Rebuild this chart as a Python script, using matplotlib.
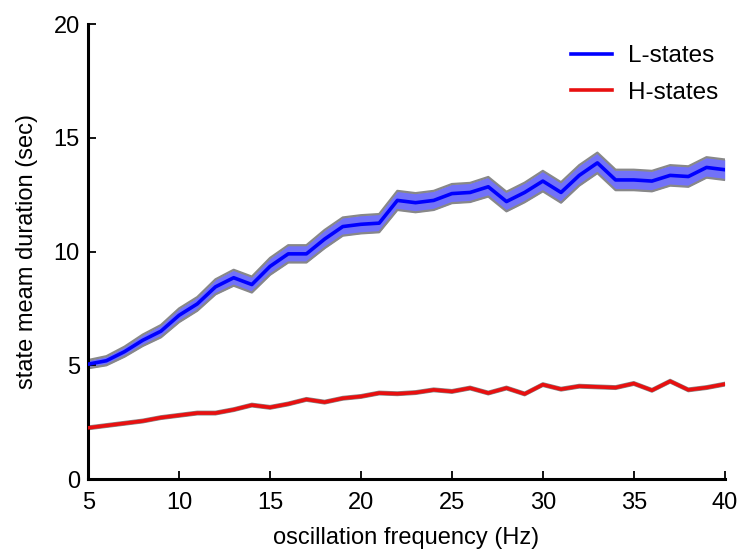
import matplotlib
matplotlib.use('Agg')
import matplotlib.pyplot as plt

plt.rcParams['font.family'] = ['Liberation Sans', 'DejaVu Sans']

# frequencies (Hz)
freq = list(range(5, 41))

# L-states mean duration (sec)
l_mean = [5.05, 5.2, 5.6, 6.1, 6.5, 7.2, 7.7, 8.45, 8.85, 8.55,
          9.35, 9.9, 9.9, 10.55, 11.1, 11.2, 11.25, 12.25, 12.15, 12.25,
          12.55, 12.6, 12.85, 12.2, 12.6, 13.1, 12.6, 13.35, 13.9, 13.15,
          13.15, 13.1, 13.35, 13.3, 13.7, 13.6]
l_err = [0.18, 0.2, 0.22, 0.25, 0.27, 0.3, 0.3, 0.33, 0.35, 0.35,
         0.37, 0.38, 0.38, 0.4, 0.4, 0.4, 0.4, 0.42, 0.42, 0.42,
         0.42, 0.42, 0.43, 0.43, 0.43, 0.45, 0.45, 0.45, 0.45, 0.45,
         0.45, 0.45, 0.45, 0.45, 0.45, 0.45]

# H-states mean duration (sec)
h_mean = [2.25, 2.35, 2.45, 2.55, 2.7, 2.8, 2.9, 2.9, 3.05, 3.25,
          3.15, 3.3, 3.5, 3.38, 3.55, 3.63, 3.78, 3.75, 3.8, 3.92,
          3.85, 4.0, 3.78, 4.0, 3.74, 4.15, 3.95, 4.08, 4.05, 4.02,
          4.2, 3.9, 4.3, 3.92, 4.02, 4.17]
h_err = [0.06] * 36

fig = plt.figure(figsize=(7.41, 5.49), dpi=100)
ax = fig.add_axes([0.119, 0.1275, 0.859, 0.8285])

# L-states band + line
lo = [m - e for m, e in zip(l_mean, l_err)]
hi = [m + e for m, e in zip(l_mean, l_err)]
ax.fill_between(freq, lo, hi, color='#7272f8', lw=0, zorder=1)
ax.plot(freq, lo, color='#888888', lw=1.6, zorder=2)
ax.plot(freq, hi, color='#888888', lw=1.6, zorder=2)
ax.plot(freq, l_mean, color='#0000ff', lw=2.6, zorder=3, label='L-states')

# H-states band + line
lo = [m - e for m, e in zip(h_mean, h_err)]
hi = [m + e for m, e in zip(h_mean, h_err)]
ax.fill_between(freq, lo, hi, color='#ff8080', lw=0, zorder=1)
ax.plot(freq, lo, color='#888888', lw=1.6, zorder=2)
ax.plot(freq, hi, color='#888888', lw=1.6, zorder=2)
ax.plot(freq, h_mean, color='#e81010', lw=2.6, zorder=3, label='H-states')

ax.set_xlim(5, 40)
ax.set_ylim(0, 20)
ax.set_xticks([5, 10, 15, 20, 25, 30, 35, 40])
ax.set_yticks([0, 5, 10, 15, 20])

ax.spines['top'].set_visible(False)
ax.spines['right'].set_visible(False)
ax.spines['left'].set_linewidth(2.2)
ax.spines['bottom'].set_linewidth(2.2)
ax.tick_params(direction='in', length=6, width=1.3, labelsize=17)
ax.tick_params(axis='x', pad=9)
ax.tick_params(axis='y', pad=6)

ax.set_xlabel('oscillation frequency (Hz)', fontsize=17, labelpad=10)
ax.set_ylabel('state meam duration (sec)', fontsize=17, labelpad=11)

ax.legend(loc='upper right', frameon=False, fontsize=17.5, handlelength=1.7,
          handletextpad=0.65, labelspacing=0.6, borderpad=0, borderaxespad=0,
          bbox_to_anchor=(0.99, 0.954))

fig.savefig('out.png', dpi=100)
